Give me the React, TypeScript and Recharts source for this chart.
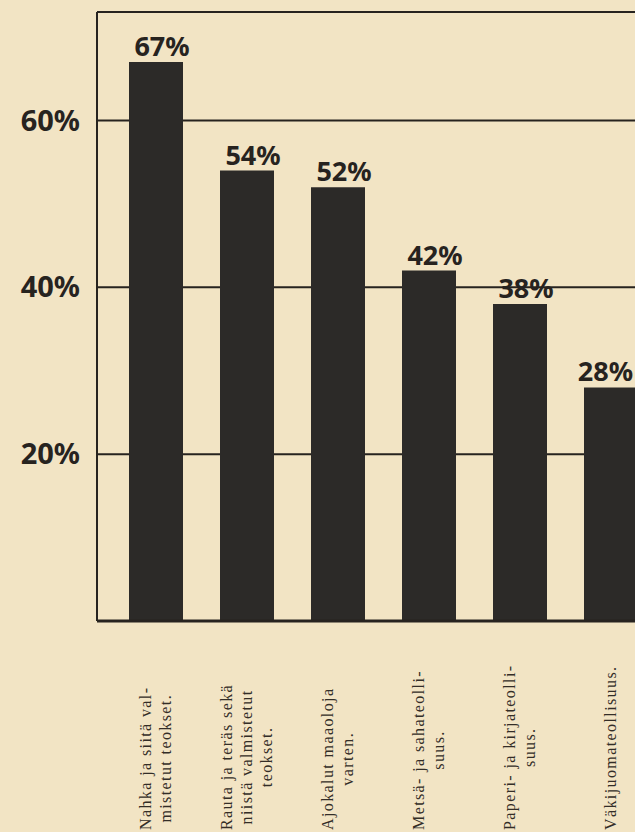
import { BarChart, Bar, XAxis, YAxis, CartesianGrid, LabelList } from "recharts";

// teollisuusalat ja osuudet (%)
const categories = [
  "Nahka ja siitä val-|mistetut teokset.",
  "Rauta ja teräs sekä|niistä valmistetut|teokset.",
  "Ajokalut maaoloja|varten.",
  "Metsä- ja sahateolli-|suus.",
  "Paperi- ja kirjateolli-|suus.",
  "Väkijuomateollisuus.",
];
const shares = [67, 54, 52, 42, 38, 28];
const yTicks = [20, 40, 60];

const data = categories.map((name, i) => ({ name, value: shares[i] }));

const ink = "#27231f";
const paper = "#f2e4c4";
const serif = '"Liberation Serif", "DejaVu Serif", serif';
const hand = '"Noto Sans", "DejaVu Sans", sans-serif';
const fontPx = 16;
const spacing = 1.4;

let ctx: CanvasRenderingContext2D | null = null;
const measure = (s: string, font: string, ls = 0) => {
  if (!ctx) {
    ctx = document.createElement("canvas").getContext("2d");
  }
  if (!ctx) return s.length * 8;
  ctx.font = font;
  return ctx.measureText(s).width + s.length * ls;
};

const CategoryTick = (props: any) => {
  const { x, payload } = props;
  const lines: string[] = String(payload.value).split("|");
  const bottom = 830;
  const mid = bottom - measure(lines[0], `${fontPx}px ${serif}`, spacing) / 2;
  return (
    <g>
      {lines.map((line, i) => {
        const tx = x + (i - (lines.length - 1) / 2) * 20;
        const first = i === 0;
        return (
          <text
            key={i}
            transform={`translate(${tx}, ${first ? bottom : mid}) rotate(-90)`}
            textAnchor={first ? "start" : "middle"}
            dy="0.35em"
            fontFamily={serif}
            fontSize={fontPx}
            letterSpacing={spacing}
            fill="#332d27"
          >
            {line}
          </text>
        );
      })}
    </g>
  );
};

const PercentTick = (props: any) => {
  const { y, payload } = props;
  return (
    <text x={80} y={y} dy="0.35em" textAnchor="end" fontFamily={hand} fontWeight={700} fontSize={29} fill={ink}>
      {payload.value}%
    </text>
  );
};

const ValueLabel = (props: any) => {
  const { x, y, width, value } = props;
  const txt = `${value}%`;
  const w = measure(txt, `700 27px ${hand}`);
  // keep the last label inside the page edge
  const cx = Math.min(x + width / 2 + 6, 633 - w / 2);
  return (
    <text x={cx} y={y - 6} textAnchor="middle" fontFamily={hand} fontWeight={700} fontSize={27} fill={ink}>
      {txt}
    </text>
  );
};

export default function App() {
  return (
    <div style={{ position: "absolute", left: 0, top: 0, width: 635, height: 832, overflow: "hidden", background: paper }}>
      <BarChart width={700} height={832} data={data} margin={{ top: 12, right: 44, left: 0, bottom: 0 }} barSize={54}>
        <CartesianGrid vertical={false} stroke={ink} strokeWidth={2} />
        <XAxis
          dataKey="name"
          height={211}
          interval={0}
          tick={<CategoryTick />}
          tickLine={false}
          axisLine={{ stroke: ink, strokeWidth: 3 }}
          padding={{ left: 13, right: 0 }}
        />
        <YAxis
          domain={[0, 73]}
          ticks={yTicks}
          width={97}
          tick={<PercentTick />}
          tickLine={false}
          axisLine={{ stroke: ink, strokeWidth: 2 }}
        />
        <Bar dataKey="value" fill="#2c2a28" isAnimationActive={false}>
          <LabelList dataKey="value" content={<ValueLabel />} />
        </Bar>
      </BarChart>
    </div>
  );
}
